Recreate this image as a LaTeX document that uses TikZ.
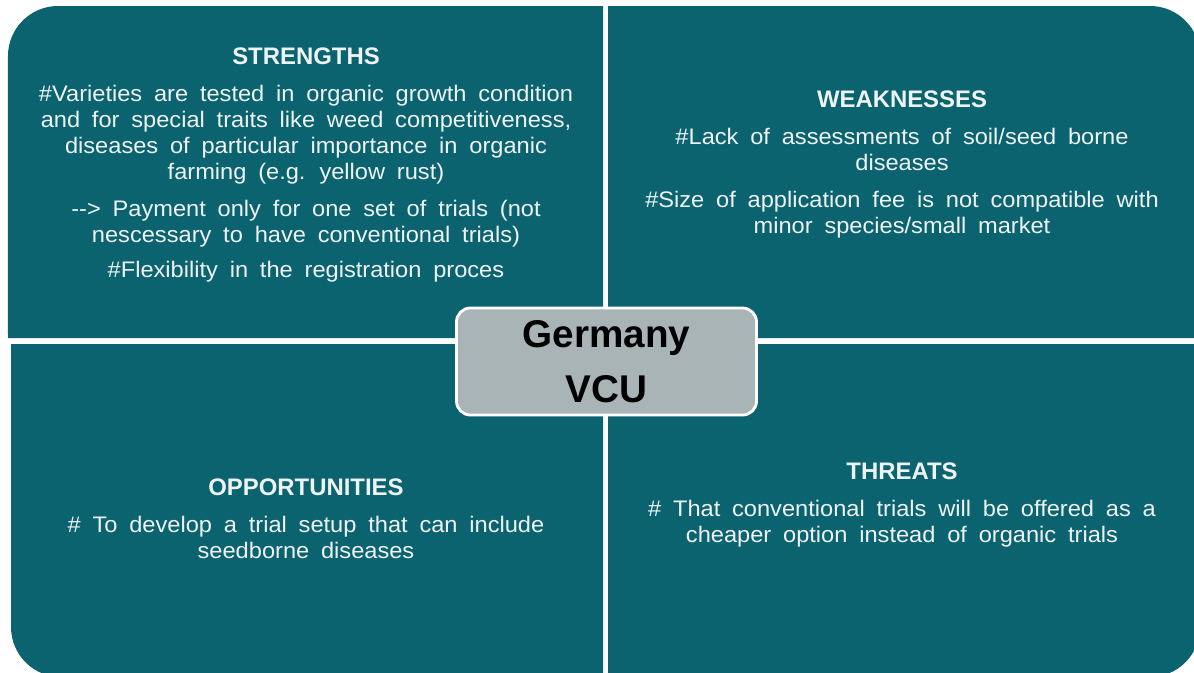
\documentclass[tikz,border=0pt]{standalone}
\usepackage{fontspec}
\setmainfont{Liberation Sans}
\newfontfamily\corps[FakeStretch=1.05,WordSpace=1.8]{Liberation Sans}
\usetikzlibrary{positioning}
\definecolor{petrol}{HTML}{0B6370}
\definecolor{grisbox}{HTML}{A9B4B7}
\definecolor{blanc}{HTML}{EEF3F4}
\newcommand\rubrique[1]{{\normalfont\fontsize{17}{20}\selectfont\bfseries #1}}

\begin{document}
\begin{tikzpicture}[x=0.025cm,y=-0.025cm,
  quad/.style={fill=petrol},
  swot/.style={align=center,text=blanc,inner sep=0pt,font=\corps\fontsize{16}{18.5}\selectfont},
  vcu/.style={draw=white,line width=2pt,fill=grisbox,rounded corners=0.35cm,minimum width=7.5cm,minimum height=2.675cm,align=center,font=\fontsize{27.5}{39}\selectfont\bfseries}]
  \useasboundingbox (0,0) rectangle (1194,672);
  \clip (0,0) rectangle (1194,672);
  % quadrants
  \fill[quad] (603,6) -- (58,6) arc[start angle=90,end angle=180,radius=1.25cm] -- (8,338) -- (603,338) -- cycle;
  \fill[quad] (608,6) -- (1150,6) arc[start angle=90,end angle=0,radius=1.25cm] -- (1200,338) -- (608,338) -- cycle;
  \fill[quad] (11,344) -- (11,627) arc[start angle=180,end angle=270,radius=1.25cm] -- (603,677) -- (603,344) -- cycle;
  \fill[quad] (608,344) -- (608,677) -- (1150,677) arc[start angle=270,end angle=360,radius=1.25cm] -- (1200,344) -- cycle;
  % texts
  \node[swot] (forces) at (306,165) {\rubrique{STRENGTHS}\\[7.8pt]
    \#Varieties are tested in organic growth condition\\
    and for special traits like weed competitiveness,\\
    diseases of particular importance in organic\\
    farming (e.g. yellow rust)\\[7.8pt]
    -{}-> Payment only for one set of trials (not\\
    nescessary to have conventional trials)\\[6.5pt]
    \#Flexibility in the registration proces};
  \node[swot] (faiblesses) at (902,164.5) {\rubrique{WEAKNESSES}\\[7.8pt]
    \#Lack of assessments of soil/seed borne\\
    diseases\\[7.8pt]
    \#Size of application fee is not compatible with\\
    minor species/small market};
  \node[swot] (opportunites) at (306,519) {\rubrique{OPPORTUNITIES}\\[7.8pt]
    \# To develop a trial setup that can include\\
    seedborne diseases};
  \node[swot] (menaces) at (902,505) {\rubrique{THREATS}\\[7.8pt]
    \# That conventional trials will be offered as a\\
    cheaper option instead of organic trials};
  \node[vcu] (pays) at (606.5,361.5) {Germany\\VCU};
\end{tikzpicture}
\end{document}
